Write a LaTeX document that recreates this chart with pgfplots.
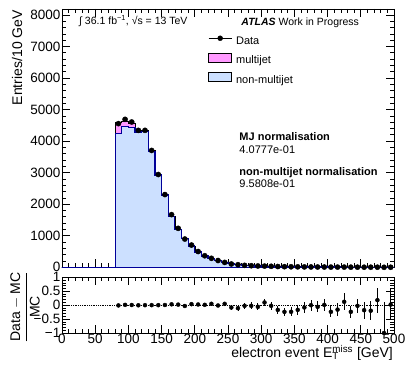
\documentclass[border=0pt]{standalone}
\usepackage{pgfplots}
\pgfplotsset{compat=1.18}
\usepackage{pgfplotstable}
\usepackage{fontspec}
\setmainfont{Liberation Sans}
\definecolor{mjpink}{RGB}{255,153,255}
\definecolor{nmjblue}{RGB}{204,224,255}
\definecolor{nmjline}{RGB}{0,0,153}

\pgfplotstableread{
x nonmj mj
0 0 0
10 0 0
20 0 0
30 0 0
40 0 0
50 0 0
60 0 0
70 0 0
80 4236 370
90 4470 170
100 4430 125
110 4290 60
120 4300 35
130 3680 22
140 2925 15
150 2290 10
160 1615 8
170 1205 6
180 920 5
190 676 4
200 484 4
210 358 3
220 269 3
230 215 3
240 146 2
250 113 2
260 90 2
270 62 1
280 50 1
290 44 1
300 34 1
310 32 0
320 29 0
330 25 0
340 21 0
350 17 0
360 13 0
370 11 0
380 10 0
390 8 0
400 8 0
410 7 0
420 5 0
430 5 0
440 4 0
450 4 0
460 4 0
470 3 0
480 3 0
490 2 0
500 2 0
}\mctable

\pgfplotstableread{
x y
85 4555
95 4691
105 4607
115 4342
125 4342
135 3705
145 2942
155 2306
165 1670
175 1235
185 896
195 705
205 500
215 366
225 285
235 215
245 155
255 105
265 82
275 62
285 50
295 42
305 38
315 32
325 24
335 19
345 16
355 14
365 12
375 11
385 9
395 8
405 6
415 6
425 6
435 4
445 4
455 3
465 3
475 3
485 0
495 2
}\datatable

\pgfplotstableread{
x r ep em
85 -0.01 0.015 0.015
95 0.01 0.015 0.015
105 0.005 0.015 0.015
115 -0.005 0.015 0.015
125 0.0 0.015 0.015
135 0.0 0.017 0.017
145 0.0 0.02 0.02
155 0.005 0.022 0.022
165 0.03 0.025 0.025
175 0.02 0.03 0.03
185 -0.03 0.035 0.035
195 0.036 0.04 0.04
205 0.024 0.045 0.045
215 0.012 0.05 0.05
225 0.048 0.06 0.06
235 -0.012 0.07 0.07
245 0.048 0.08 0.08
255 -0.084 0.09 0.09
265 -0.108 0.1 0.1
275 -0.024 0.11 0.11
285 -0.024 0.12 0.12
295 -0.06 0.13 0.13
305 0.096 0.14 0.14
315 -0.024 0.15 0.15
325 -0.17 0.15 0.15
335 -0.24 0.15 0.15
345 -0.24 0.16 0.16
355 -0.17 0.17 0.17
365 -0.084 0.18 0.18
375 0 0.2 0.2
385 -0.06 0.2 0.2
395 0.01 0.22 0.22
405 -0.24 0.2 0.2
415 -0.16 0.22 0.22
425 0.12 0.3 0.3
435 -0.24 0.22 0.22
445 -0.024 0.26 0.26
455 -0.18 0.3 0.3
465 -0.2 0.35 0.35
475 0.18 0.45 0.45
485 -1 1.1 0
495 0.02 0.55 0.55
}\ratiotable

\begin{document}
\begin{tikzpicture}
\path[use as bounding box] (-62bp,-99.7bp) rectangle (344bp,267.3bp);
\pgfplotsset{
  atlasaxis/.style={
    scale only axis, width=332bp,
    xmin=0, xmax=500,
    xtick={0,50,...,500}, minor x tick num=4,
    xtick pos=both, ytick pos=both,
    xticklabel pos=lower, yticklabel pos=left,
    tick align=inside,
    major tick length=8bp, minor tick length=4bp,
    axis line style={line width=0.8bp},
    every tick/.style={black, line width=0.7bp},
    ticklabel style={font=\fontsize{13.5bp}{15bp}\selectfont},
    /pgf/number format/assume math mode=true,
    /pgf/number format/1000 sep={},
    scaled ticks=false,
    yticklabel style={inner sep=1.5bp},
    xticklabel style={inner sep=1bp},
  }
}
\begin{axis}[atlasaxis,
  at={(0,0)}, anchor=south west,
  height=258.3bp,
  ymin=0, ymax=8190,
  ytick={0,1000,...,8000}, minor y tick num=4,
  xticklabels={},
  ylabel={Entries/10 GeV},
  ylabel style={at={(axis description cs:-0.1355,0.996)}, anchor=east, inner sep=0pt, font=\fontsize{14bp}{16bp}\selectfont},
  legend style={at={(axis description cs:0.4398,0.898)}, anchor=north west, draw=none, fill=none, inner sep=0pt,
    font=\fontsize{11bp}{13bp}\selectfont, row sep=6.7bp,
    nodes={inner sep=0pt, text height=8bp, text depth=2bp},
    /tikz/every odd column/.style={column sep=4bp}},
  legend cell align=left,
]
\addlegendimage{legend image code/.code={\draw[black, line width=0.9bp] (0bp,3bp) -- (23bp,3bp); \fill[black] (11.5bp,3bp) circle (2.5bp);}}
\addlegendentry{Data}
\addlegendimage{legend image code/.code={\draw[black, line width=0.6bp, fill=mjpink] (0bp,-1.5bp) rectangle (23bp,7.5bp);}}
\addlegendentry{multijet}
\addlegendimage{legend image code/.code={\draw[black, line width=0.6bp, fill=nmjblue] (0bp,-1.5bp) rectangle (23bp,7.5bp);}}
\addlegendentry{non-multijet}

\addplot[const plot mark left, fill=mjpink, draw=black, line width=0.6bp, forget plot]
  table[x=x, y expr=\thisrow{nonmj}+\thisrow{mj}] {\mctable} \closedcycle;
\addplot[const plot mark left, fill=nmjblue, draw=nmjline, line width=1.2bp, forget plot]
  table[x=x, y=nonmj] {\mctable} \closedcycle;
\addplot[only marks, mark=*, mark size=2.6bp, black, forget plot]
  table[x=x, y=y] {\datatable};

\node[anchor=west, inner sep=0pt, font=\fontsize{10.5bp}{12bp}\selectfont] at (axis description cs:0.0512,0.952)
  {∫ 36.1 fb\textsuperscript{−1}, √s = 13 TeV};
\node[anchor=west, font=\fontsize{10.5bp}{12bp}\selectfont] at (axis description cs:0.530,0.947)
  {\textbf{\textit{ATLAS}} Work in Progress};
\node[anchor=west, font=\fontsize{11bp}{13bp}\selectfont\bfseries] at (axis description cs:0.524,0.5056) {MJ normalisation};
\node[anchor=west, font=\fontsize{11bp}{13bp}\selectfont] at (axis description cs:0.524,0.4568) {4.0777e-01};
\node[anchor=west, font=\fontsize{11bp}{13bp}\selectfont\bfseries] at (axis description cs:0.524,0.3662) {non-multijet normalisation};
\node[anchor=west, font=\fontsize{11bp}{13bp}\selectfont] at (axis description cs:0.524,0.3225) {9.5808e-01};
\end{axis}

\begin{axis}[atlasaxis,
  at={(0,-65.7bp)}, anchor=south west,
  height=55.7bp,
  ymin=-1, ymax=1,
  ytick={-1,-0.5,0,0.5,1},
  yticklabels={−1,−0.5,0,0.5,1},
  minor y tick num=4,
  clip=false,
  xlabel={electron event E\rlap{\textsubscript{T}}\textsuperscript{miss} [GeV]},
  xlabel style={at={(axis description cs:0.997,-0.36)}, anchor=east, inner sep=0pt, font=\fontsize{14bp}{16bp}\selectfont},
  ylabel={$\displaystyle\frac{\mbox{Data}-\mbox{MC}}{\mbox{MC}}$},
  ylabel style={at={(axis description cs:-0.1114,0.467)}, anchor=center, inner sep=0pt, font=\fontsize{14bp}{16bp}\selectfont},
]
\addplot[black, densely dotted, line width=0.8bp] coordinates {(0,0) (500,0)};
\addplot[only marks, mark=*, mark size=2bp, black,
  error bars/.cd, y dir=both, y explicit, error mark=none,
  error bar style={line width=0.9bp, black}]
  table[x=x, y=r, y error plus=ep, y error minus=em] {\ratiotable};
\end{axis}
\end{tikzpicture}
\end{document}
